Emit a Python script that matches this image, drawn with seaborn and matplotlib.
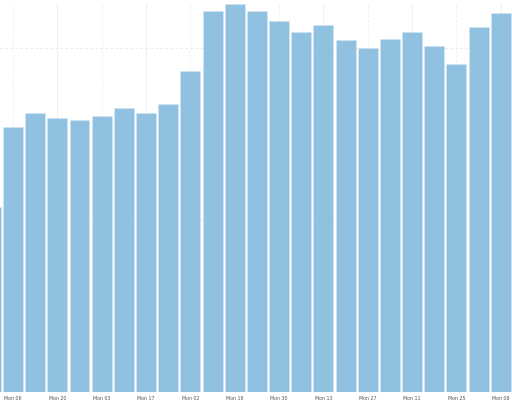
import matplotlib
matplotlib.use("Agg")
import matplotlib.pyplot as plt
import seaborn as sns
import pandas as pd

# weekly buckets (first one is the partially visible week before the range)
weeks = ["Mon 30 Dec", "Mon 06", "Mon 13", "Mon 20", "Mon 27", "Mon 03", "Mon 10", "Mon 17", "Mon 24",
         "Mon 02", "Mon 09", "Mon 16", "Mon 23", "Mon 30", "Mon 06 Apr", "Mon 13", "Mon 20",
         "Mon 27", "Mon 04", "Mon 11", "Mon 18", "Mon 25", "Mon 01", "Mon 08"]
values = [1078, 1542, 1623, 1594, 1583, 1606, 1652, 1623, 1675, 1867, 2214, 2255, 2214,
          2157, 2093, 2133, 2046, 2000, 2052, 2093, 2012, 1907, 2122, 2203]
tick_labels = ["Mon 06", "Mon 20", "Mon 03", "Mon 17", "Mon 02", "Mon 16", "Mon 30",
               "Mon 13", "Mon 27", "Mon 11", "Mon 25", "Mon 08"]
y_grid = [0, 1000, 2000]

df = pd.DataFrame({"week": range(len(values)), "value": values})

sns.set_theme(style="white")
fig = plt.figure(figsize=(5.12, 4.02), dpi=100)
ax = fig.add_axes([0, 1 - 393 / 402, 1, 389 / 402])

for i, g in enumerate(y_grid):
    ax.axhline(g, color="#e6e6e6", lw=0.6, ls=(0, (3, 3)), zorder=0)
tick_pos = list(range(1, len(values), 2))
for i, p in enumerate(tick_pos):
    ax.axvline(p, color="#ececec", lw=0.6, ls=(0, (3, 3)) if i % 2 == 0 else "-", zorder=0)

sns.barplot(data=df, x="week", y="value", color="#91c1e0", saturation=1, width=0.9,
            edgecolor="#d2e6f3", linewidth=0.4, ax=ax, zorder=2)

ax.set_xlim(0.414, len(values) - 0.492)
ax.set_ylim(0, 2262)
ax.set_xticks(tick_pos)
ax.set_xticklabels(tick_labels, fontsize=3.4, color="#555555")
ax.tick_params(axis="x", length=0, pad=2)
ax.set_yticks([])
ax.set_xlabel("")
ax.set_ylabel("")
for s in ax.spines.values():
    s.set_visible(False)
ax.patch.set_alpha(0)

fig.savefig("out.png", dpi=100)
